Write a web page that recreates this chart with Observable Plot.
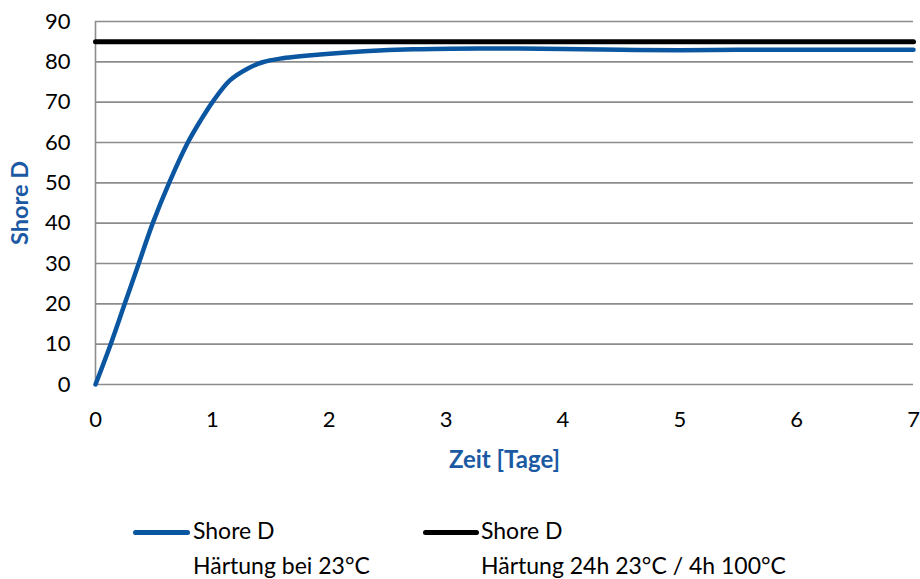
<!DOCTYPE html>
<html>
<head>
<meta charset="utf-8">
<script src="https://cdn.jsdelivr.net/npm/d3@7"></script>
<script src="https://cdn.jsdelivr.net/npm/@observablehq/plot@0.6"></script>
<style>
  html, body { margin: 0; padding: 0; background: #fff; }
  body { width: 920px; height: 579px; overflow: hidden; font-family: Lato, "Open Sans", sans-serif; }
  #chart svg { display: block; overflow: visible; }
  #legend { position: relative; width: 920px; height: 89px; font-size: 23px; color: #000; }
  .swatch { position: absolute; height: 5px; border-radius: 3px; }
  .txt { position: absolute; line-height: 35px; white-space: nowrap; }
</style>
</head>
<body>
<div id="chart"></div>
<div id="legend"></div>
<script>
// Series 1: Shore D, Härtung bei 23°C
const days = [0, 0.13, 0.25, 0.37, 0.49, 0.63, 0.79, 0.9, 1.01, 1.15, 1.3, 1.43, 1.58, 1.92, 2.3, 2.72, 3.29, 4, 4.5, 5, 5.5, 6, 6.5, 7];
const shoreD23 = [0, 10, 20, 30, 40, 50, 60, 65.5, 70.4, 75.4, 78.3, 79.9, 80.8, 81.8, 82.6, 83.1, 83.3, 83.2, 83.0, 82.9, 83.0, 83.0, 83.0, 83.0];
// Series 2: Shore D, Härtung 24h 23°C / 4h 100°C
const daysHot = [0, 7];
const shoreDHot = [85, 85];
const xTicks = [0, 1, 2, 3, 4, 5, 6, 7];
const yTicks = [0, 10, 20, 30, 40, 50, 60, 70, 80, 90];
const seriesLabels = [["Shore D", "Härtung bei 23°C"], ["Shore D", "Härtung 24h 23°C / 4h 100°C"]];
const seriesColors = ["#0a56a0", "#000000"];
const xTitle = "Zeit [Tage]";
const yTitle = "Shore D";

const s1 = days.map((d, i) => ({x: d, y: shoreD23[i]}));
const s2 = daysHot.map((d, i) => ({x: d, y: shoreDHot[i]}));

const titleColor = "#1b5aa3";
const plot = Plot.plot({
  width: 920,
  height: 490,
  marginTop: 21,
  marginBottom: 106,
  marginLeft: 95,
  marginRight: 7,
  style: {fontFamily: "Lato, 'Open Sans', sans-serif", fontSize: "22px", color: "#000", background: "#fff"},
  x: {domain: [0, 7]},
  y: {domain: [0, 90]},
  marks: [
    Plot.gridY(yTicks, {stroke: "#8c8c8c", strokeOpacity: 1, strokeWidth: 1.6}),
    Plot.ruleX([0], {stroke: "#8c8c8c", strokeWidth: 1.6}),
    Plot.axisX(xTicks, {tickSize: 0, tickPadding: 27, label: null, fill: "#000", fontSize: 22, tickFormat: d => String(d)}),
    Plot.axisY(yTicks, {tickSize: 0, tickPadding: 25, label: null, fill: "#000", fontSize: 22, tickFormat: d => String(d)}),
    Plot.line(s2, {x: "x", y: "y", stroke: seriesColors[1], strokeWidth: 5}),
    Plot.line(s1, {x: "x", y: "y", stroke: seriesColors[0], strokeWidth: 4.5, curve: "catmull-rom"}),
    Plot.text([xTitle], {frameAnchor: "bottom", dy: 76, lineAnchor: "middle", textAnchor: "middle", text: d => d, fill: titleColor, fontWeight: "bold", fontSize: 24}),
    Plot.text([yTitle], {frameAnchor: "left", dx: -75, rotate: -90, lineAnchor: "middle", textAnchor: "middle", text: d => d, fill: titleColor, fontWeight: "bold", fontSize: 23.5})
  ]
});
document.getElementById("chart").appendChild(plot);

const legend = document.getElementById("legend");
const itemPos = [{swX: 133, swW: 57, txX: 193}, {swX: 423, swW: 56, txX: 481}];
seriesLabels.forEach((lines, i) => {
  const p = itemPos[i];
  const sw = document.createElement("div");
  sw.className = "swatch";
  sw.style.left = p.swX + "px";
  sw.style.width = p.swW + "px";
  sw.style.top = (532 - 490 - 2.5) + "px";
  sw.style.background = seriesColors[i];
  legend.appendChild(sw);
  const t = document.createElement("div");
  t.className = "txt";
  t.style.left = p.txX + "px";
  t.style.top = (513 - 490) + "px";
  t.innerHTML = lines.map(l => "<div>" + l + "</div>").join("");
  legend.appendChild(t);
});
</script>
</body>
</html>
